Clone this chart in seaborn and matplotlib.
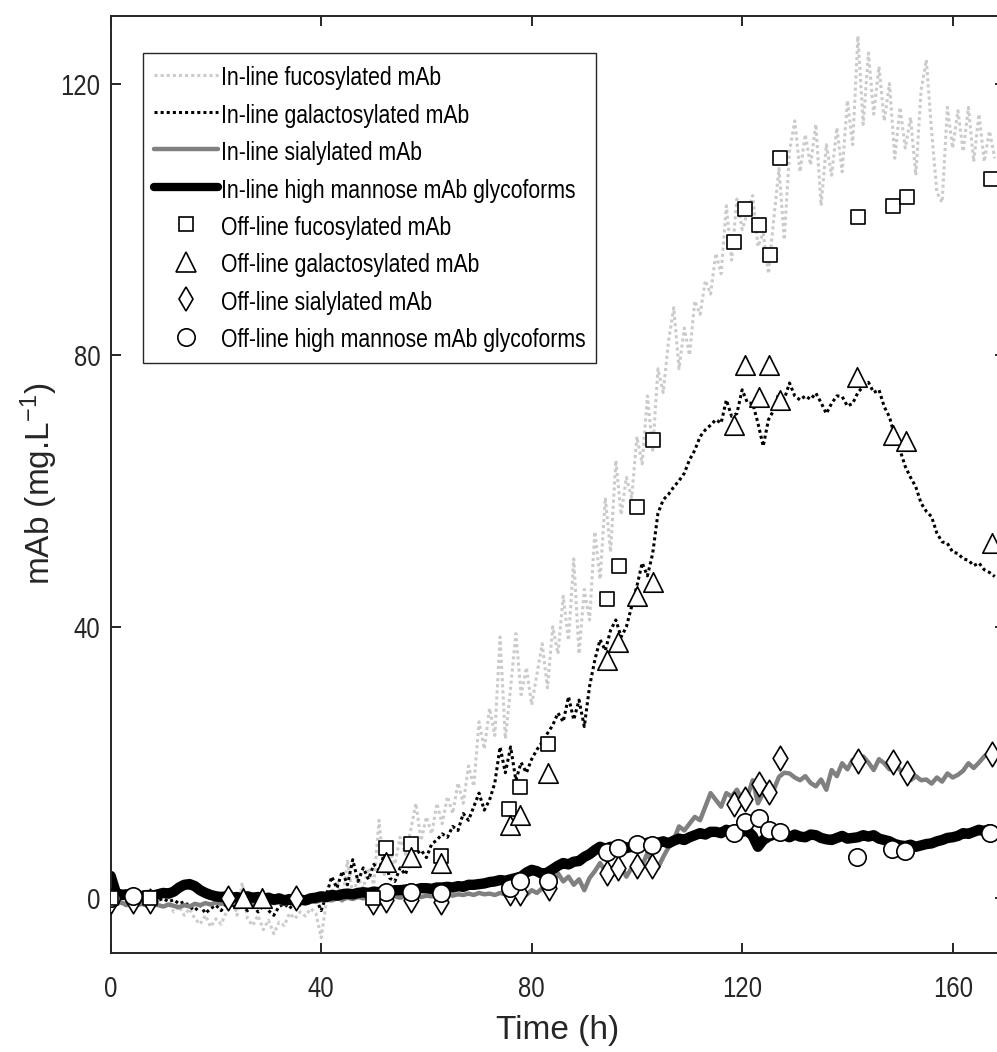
import os
import tempfile
import numpy as np
import pandas as pd
import seaborn as sns
import matplotlib.pyplot as plt
import matplotlib.font_manager as fm
from matplotlib.lines import Line2D

# in-line (Raman) predictions at 1 h steps
hours = list(range(0, 169))

fuc_inline = [
    0, -0.5, 0.3, -0.8, -0.2, -1.0, 0.2, -0.6, -1.2, -0.4,
    -1.5, -0.8, -2.0, -1.2, -2.5, -1.5, -3.0, -3.8, -2.5, -4.2,
    -3.0, -3.8, -2.0, 1.0, -2.5, 2.3, -3.0, -4.0, -2.5, -4.6,
    -3.2, -5.2, -3.5, -4.0, -2.2, -3.0, -2.0, -2.6, -1.5, -2.2,
    -5.8, -0.5, 0.8, 2.5, -0.5, 5.5, 0.5, 3.0, 1.5, 4.5,
    2.0, 11.5, 3.5, 7.0, 5.0, 9.0, 6.5, 10.0, 14.0, 8.5,
    12.0, 9.5, 14.0, 11.0, 15.0, 12.5, 17.0, 14.0, 19.5, 16.5,
    26.0, 22.0, 28.0, 24.0, 38.5, 23.5, 31.0, 39.0, 30.0, 34.0,
    28.5, 33.0, 37.5, 31.0, 40.0, 36.0, 44.5, 38.0, 50.0, 36.0,
    45.5, 41.0, 54.0, 47.0, 59.0, 51.0, 64.5, 56.5, 62.0, 59.0,
    68.0, 64.0, 74.0, 66.0, 78.0, 74.5, 82.0, 87.0, 78.0, 84.0,
    80.0, 88.0, 86.0, 91.0, 89.0, 95.0, 92.0, 102.0, 94.0, 103.0,
    98.5, 101.0, 103.5, 96.0, 98.0, 92.0, 100.0, 107.5, 97.0, 110.0,
    114.5, 107.0, 112.5, 108.0, 114.0, 102.0, 111.0, 106.5, 113.5, 107.0,
    117.5, 111.0, 127.0, 114.0, 124.5, 115.5, 122.5, 114.5, 120.0, 109.0,
    116.5, 110.5, 115.0, 106.5, 119.0, 123.5, 113.0, 104.0, 102.5, 116.5,
    110.5, 116.0, 110.0, 116.5, 108.5, 115.5, 108.5, 113.0, 109.0,
]

gal_inline = [
    0.5, 0.2, 0.5, 0.0, 0.3, 0.0, 0.4, -0.2, 0.2, -0.3,
    0.0, -0.5, -0.2, -0.8, -0.5, -1.2, -1.8, -1.0, -2.2, -1.5,
    -1.0, -1.8, -0.8, -1.5, -0.5, -1.2, -1.8, -0.8, -2.0, -1.0,
    -1.8, -2.5, -1.2, -0.8, -1.5, -0.5, -1.0, -0.3, -0.8, 0.0,
    -1.8, 0.5, 3.2, 1.5, 4.0, 2.0, 5.7, 2.5, 4.5, 2.8,
    5.0, 4.2, 6.5, 3.0, 2.5, 4.5, 3.5, 5.7, 6.5, 7.1,
    6.0, 8.0, 8.6, 9.5, 9.0, 10.6, 10.0, 12.5, 11.5, 13.5,
    15.5, 13.0, 14.5, 17.0, 22.3, 18.5, 22.3, 17.4, 20.0, 18.5,
    20.5, 21.9, 23.0, 24.3, 25.5, 27.3, 26.0, 29.7, 26.3, 29.2,
    25.3, 31.2, 35.1, 38.1, 36.5, 39.5, 41.0, 38.5, 40.0, 43.0,
    46.0, 49.4, 47.5, 50.8, 56.7, 58.7, 59.5, 60.6, 61.5, 62.6,
    64.6, 66.0, 68.0, 69.0, 69.7, 70.5, 70.0, 73.4, 71.0, 71.4,
    74.9, 73.0, 72.9, 70.0, 66.6, 70.5, 71.9, 74.5, 73.5, 75.9,
    74.0, 73.4, 74.0, 73.5, 74.4, 73.0, 71.4, 72.9, 74.0, 73.9,
    72.5, 72.9, 74.5, 75.4, 76.0, 74.5, 74.9, 72.4, 70.9, 68.0,
    66.0, 63.6, 62.0, 60.6, 58.2, 57.0, 56.2, 53.8, 52.5, 52.3,
    51.0, 50.8, 50.0, 49.8, 49.0, 49.4, 48.4, 48.0, 47.4,
]

sia_inline = [
    -0.5, -0.8, -0.6, -1.0, -0.7, -1.0, -0.8, -1.1, -0.9, -1.0,
    -1.2, -0.9, -1.1, -1.3, -1.0, -1.2, -0.8, -1.0, -0.7, -0.9,
    -0.6, -0.8, -0.5, -0.7, -0.6, -0.8, -0.5, -0.7, -0.6, -0.8,
    -0.5, -0.7, -0.6, -0.8, -0.6, -0.7, -0.5, -0.6, -0.4, -0.5,
    -0.3, -0.2, -0.3, 0.0, -0.2, 0.1, -0.1, 0.2, 0.0, 0.2,
    0.1, 0.3, 0.0, 0.2, 0.3, 0.1, 0.3, 0.2, 0.4, 0.2,
    0.4, 0.3, 0.5, 0.3, 0.6, 0.4, 0.6, 0.5, 0.7, 0.5,
    0.8, 0.6, 0.7, 0.5, 0.8, 0.6, 0.8, 0.3, 1.0, 0.5,
    1.2, 0.8, 1.5, 1.0, 2.0, 3.7, 2.5, 3.2, 2.0, 2.8,
    1.2, 3.0, 4.0, 5.2, 4.0, 4.5, 3.5, 4.8, 3.2, 4.5,
    5.5, 4.8, 6.7, 5.0, 4.5, 6.1, 7.5, 8.6, 10.6, 10.0,
    11.0, 12.0, 11.5, 13.5, 15.5, 14.5, 13.5, 15.5, 15.0, 16.0,
    14.5, 15.0, 17.4, 14.0, 15.5, 15.0, 16.0, 17.9, 18.5, 18.4,
    17.8, 17.4, 18.0, 17.0, 16.5, 17.5, 16.0, 18.9, 18.0, 19.9,
    19.0, 20.4, 19.5, 20.9, 20.0, 18.9, 20.5, 19.9, 19.0, 20.0,
    18.9, 18.0, 17.4, 18.0, 17.4, 17.5, 16.9, 17.8, 17.2, 18.4,
    17.8, 18.2, 18.8, 19.9, 19.2, 20.0, 20.9, 21.5, 20.4,
]

man_inline = [
    3.3, 0.8, 0.5, 0.6, 0.4, 0.5, 0.3, 0.5, 0.4, 0.6,
    0.8, 0.7, 1.0, 1.6, 2.0, 2.1, 1.8, 1.2, 0.8, 0.5,
    0.3, 0.2, 0.3, 0.1, 0.2, 0.0, 0.3, 0.1, 0.2, -0.1,
    0.1, -0.2, 0.0, -0.3, -0.1, -0.4, -0.2, -0.3, 0.0, 0.1,
    0.3, 0.2, 0.5, 0.4, 0.6, 0.7, 0.6, 0.8, 0.9, 0.8,
    1.0, 0.9, 1.1, 1.0, 1.2, 1.2, 1.3, 1.4, 1.3, 1.5,
    1.5, 1.4, 1.6, 1.6, 1.7, 1.6, 1.8, 1.7, 2.0, 2.0,
    2.1, 2.2, 2.4, 2.5, 2.7, 2.6, 2.8, 3.0, 3.2, 3.8,
    4.2, 4.0, 3.6, 3.8, 4.3, 4.8, 5.2, 5.0, 5.4, 5.5,
    6.1, 6.5, 7.1, 7.6, 7.3, 7.6, 7.2, 7.8, 7.4, 7.6,
    8.0, 7.7, 8.2, 7.9, 8.2, 8.4, 8.1, 8.5, 8.8, 8.6,
    9.0, 9.3, 9.6, 9.4, 9.8, 9.8, 9.6, 10.1, 9.8, 9.5,
    9.8, 10.0, 9.2, 7.6, 8.6, 9.1, 9.4, 9.6, 9.3, 9.0,
    9.4, 9.1, 9.0, 9.4, 9.3, 8.9, 8.7, 8.6, 8.9, 9.2,
    8.8, 8.9, 9.0, 9.3, 9.1, 9.3, 8.8, 8.6, 8.4, 8.0,
    7.8, 7.7, 7.9, 7.6, 7.8, 8.0, 8.1, 8.4, 8.6, 8.9,
    9.0, 9.2, 9.6, 9.5, 9.8, 10.1, 9.9, 10.2, 9.8,
]

# off-line (reference assay) samples
fuc_off_t = [0, 7.4, 49.9, 52.3, 57.0, 62.8, 75.7, 77.8, 83.2, 94.4, 96.6,
             100.1, 103.0, 118.4, 120.5, 123.2, 125.2, 127.1, 142.0, 148.7, 151.3, 167.2]
fuc_off = [0, 0, 0, 7.4, 8.0, 6.3, 13.1, 16.4, 22.8, 44.1, 48.9,
           57.7, 67.5, 96.7, 101.6, 99.1, 94.8, 109.0, 100.3, 102.0, 103.3, 105.9]

gal_off_t = [25.1, 28.7, 52.3, 57.0, 62.8, 75.9, 77.8, 83.2, 94.4, 96.5, 100.1,
             103.0, 118.5, 120.5, 123.2, 125.1, 127.1, 141.9, 148.7, 151.1, 167.5]
gal_off = [0, 0, 5.4, 6.1, 5.2, 10.8, 12.3, 18.5, 35.1, 37.7, 44.5,
           46.6, 69.7, 78.6, 73.8, 78.6, 73.4, 76.8, 68.2, 67.3, 52.3]

sia_off_t = [0, 4.3, 7.4, 22.3, 35.2, 49.9, 52.3, 57.0, 62.8, 75.9, 77.8, 83.3,
             94.4, 96.5, 100.1, 102.9, 118.5, 120.5, 123.2, 125.1, 127.2, 142.1, 148.7, 151.3, 167.4]
sia_off = [-0.4, -0.4, -0.4, 0, 0, -0.5, -0.3, -0.3, -0.5, 0.8, 0.8, 1.5,
           3.7, 4.4, 4.7, 4.7, 13.9, 14.6, 16.8, 15.6, 20.6, 20.2, 20.1, 18.5, 21.3]

man_off_t = [0, 4.3, 52.3, 57.0, 62.8, 75.9, 77.8, 83.2, 94.4, 96.5, 100.1, 102.9,
             118.5, 120.5, 123.2, 125.1, 127.1, 141.8, 148.4, 150.9, 167.1]
man_off = [0, 0.3, 1.0, 1.0, 0.75, 1.6, 2.6, 2.6, 6.8, 7.4, 8.0, 7.9,
           9.7, 11.3, 11.8, 10.1, 9.8, 6.1, 7.2, 7.0, 9.7]


def narrow_sans(sx=0.82):
    # the original uses an Arial-Narrow-like face; build one from Liberation Sans
    try:
        from fontTools.ttLib import TTFont
        src = fm.findfont(fm.FontProperties(family='Liberation Sans'), fallback_to_default=False)
        font = TTFont(src)
        glyf = font['glyf']
        hmtx = font['hmtx']
        for name in font.getGlyphOrder():
            g = glyf[name]
            if g.isComposite():
                for comp in g.components:
                    comp.x = int(round(comp.x * sx))
            elif g.numberOfContours > 0:
                g.coordinates.scale((sx, 1.0))
                g.coordinates.toInt()
            g.recalcBounds(glyf)
            adv, lsb = hmtx.metrics[name]
            new_lsb = getattr(g, 'xMin', int(round(lsb * sx))) if g.numberOfContours else 0
            hmtx.metrics[name] = (int(round(adv * sx)), new_lsb)
        if 'kern' in font:
            for sub in font['kern'].kernTables:
                for k in list(sub.kernTable):
                    sub.kernTable[k] = int(round(sub.kernTable[k] * sx))
        for rec in font['name'].names:
            if rec.nameID in (1, 4, 16):
                rec.string = 'Narrowed Sans'
            elif rec.nameID == 6:
                rec.string = 'NarrowedSans'
        path = os.path.join(tempfile.mkdtemp(), 'narrowed_sans.ttf')
        font.save(path)
        fm.fontManager.addfont(path)
        return 'Narrowed Sans'
    except Exception:
        return 'Liberation Sans'


inline = pd.DataFrame({'time': hours, 'fuc': fuc_inline, 'gal': gal_inline,
                       'sia': sia_inline, 'man': man_inline})

sns.set_style('ticks', {'xtick.direction': 'in', 'ytick.direction': 'in'})
NARROW = narrow_sans()
plt.rcParams['font.family'] = [NARROW, 'DejaVu Sans']
plt.rcParams['mathtext.fontset'] = 'custom'
plt.rcParams['mathtext.rm'] = 'Liberation Sans'
plt.rcParams['mathtext.default'] = 'regular'

AX_COL = '#262626'
LIGHT = '#cbcbcb'
MID = '#808080'
DOT = (0, (1, 1))

fig = plt.figure(figsize=(9.97, 10.52), dpi=100)
ax = fig.add_axes([0.111, 0.0944, 0.8973, 0.8907])

# in-line traces
sns.lineplot(data=inline, x='time', y='fuc', color=LIGHT, lw=2.2, linestyle=DOT,
             estimator=None, sort=False, ax=ax, zorder=2)
sns.lineplot(data=inline, x='time', y='gal', color='black', lw=2.2, linestyle=DOT,
             estimator=None, sort=False, ax=ax, zorder=2)
sns.lineplot(data=inline, x='time', y='sia', color=MID, lw=3.2,
             estimator=None, sort=False, ax=ax, zorder=2)
sns.lineplot(data=inline, x='time', y='man', color='black', lw=7.5,
             estimator=None, sort=False, ax=ax, zorder=2)

# off-line samples
mk = dict(color='white', edgecolor='black', linewidth=1.2, legend=False, ax=ax)
sns.scatterplot(x=sia_off_t, y=sia_off, marker='d', s=12.5**2, zorder=3, **mk)
sns.scatterplot(x=man_off_t, y=man_off, marker='o', s=12.5**2, zorder=4, **mk)
sns.scatterplot(x=fuc_off_t, y=fuc_off, marker='s', s=9.5**2, zorder=5, **mk)
sns.scatterplot(x=gal_off_t, y=gal_off, marker='^', s=14**2, zorder=6, **mk)

ax.set_xlim(0, 170)
ax.set_ylim(-8, 130)
ax.set_xticks([0, 40, 80, 120, 160])
ax.set_yticks([0, 40, 80, 120])
for sp in ax.spines.values():
    sp.set_visible(True)
    sp.set_color(AX_COL)
    sp.set_linewidth(1.4)
ax.tick_params(axis='both', which='major', direction='in', length=7.5, width=1.4,
               color=AX_COL, labelcolor=AX_COL, labelsize=21, top=True, right=True)
ax.tick_params(axis='x', pad=16)
ax.tick_params(axis='y', pad=7.5)

ax.set_xlabel('Time (h)', fontsize=24, color=AX_COL, fontfamily='Liberation Sans')
ax.set_ylabel('mAb (mg.L$^{-1}$)', fontsize=24, color=AX_COL, fontfamily='Liberation Sans')
ax.xaxis.set_label_coords(0.5, -0.067)
ax.yaxis.set_label_coords(-0.057, 0.5)

handles = [
    Line2D([], [], color=LIGHT, lw=2.2, ls=DOT),
    Line2D([], [], color='black', lw=2.2, ls=DOT),
    Line2D([], [], color=MID, lw=3.2),
    Line2D([], [], color='black', lw=6),
    Line2D([], [], ls='none', marker='s', ms=9.5, mfc='white', mec='black', mew=1.2),
    Line2D([], [], ls='none', marker='^', ms=14, mfc='white', mec='black', mew=1.2),
    Line2D([], [], ls='none', marker='d', ms=12.5, mfc='white', mec='black', mew=1.2),
    Line2D([], [], ls='none', marker='o', ms=12.5, mfc='white', mec='black', mew=1.2),
]
labels = ['In-line fucosylated mAb', 'In-line galactosylated mAb',
          'In-line sialylated mAb', 'In-line high mannose mAb glycoforms',
          'Off-line fucosylated mAb', 'Off-line galactosylated mAb',
          'Off-line sialylated mAb', 'Off-line high mannose mAb glycoforms']
leg = ax.legend(handles, labels, loc='upper left', bbox_to_anchor=(0.0361, 0.9602),
                borderaxespad=0, fontsize=18.6, frameon=True, fancybox=False,
                handlelength=2.5, handleheight=1.15, handletextpad=0.1,
                labelspacing=0.42, borderpad=0.42, framealpha=1)
leg.get_frame().set_edgecolor(AX_COL)
leg.get_frame().set_linewidth(1.0)
for txt in leg.get_texts():
    txt.set_color('black')

fig.savefig('out.png', dpi=100)
